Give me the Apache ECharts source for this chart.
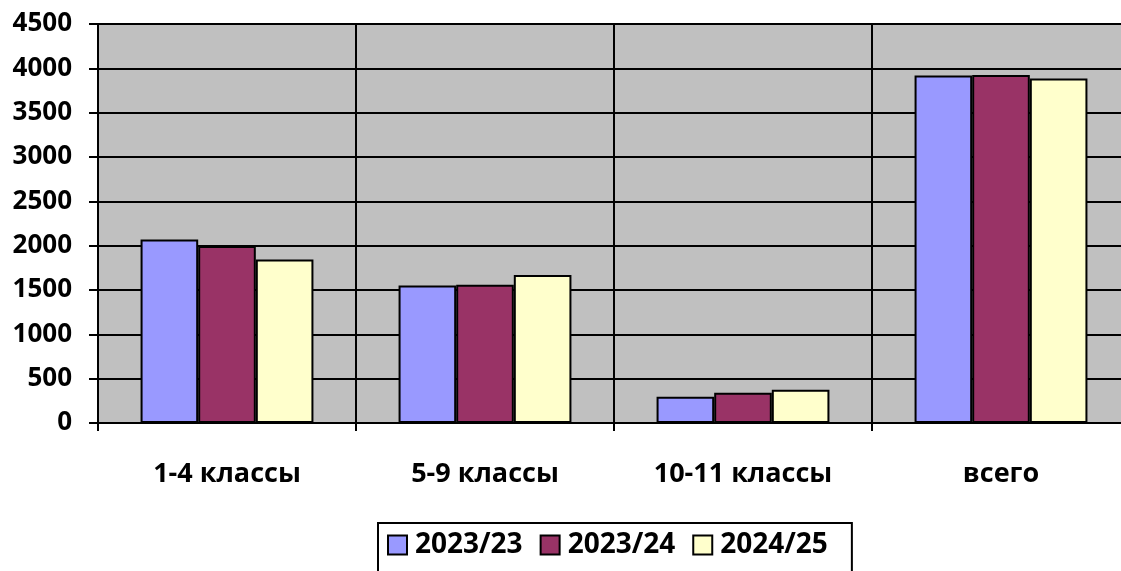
<!DOCTYPE html>
<html>
<head>
<meta charset="utf-8">
<script src="https://cdn.jsdelivr.net/npm/echarts@6/dist/echarts.min.js"></script>
<style>
  html, body { margin: 0; padding: 0; background: #fff; overflow: hidden; }
  #chart { width: 1131px; height: 571px; }
</style>
</head>
<body>
<div id="chart"></div>
<script>
// данные по классам
const categories = ['1-4 классы', '5-9 классы', '10-11 классы', 'всего']
const seriesNames = ['2023/23', '2023/24', '2024/25']
const values2023_23 = [2070, 1550, 295, 3920]
const values2023_24 = [1995, 1560, 340, 3925]
const values2024_25 = [1845, 1670, 375, 3885]
const yTicks = [0, 500, 1000, 1500, 2000, 2500, 3000, 3500, 4000, 4500]

const colors = ['#9999FF', '#993366', '#FFFFCC']
const font = '"Open Sans", "DejaVu Sans", sans-serif'

const chart = echarts.init(document.getElementById('chart'))

const seriesData = [values2023_23, values2023_24, values2024_25]

const option = {
  animation: false,
  textStyle: { fontFamily: font },
  grid: {
    left: 98,
    top: 24,
    right: 1,
    bottom: 148,
    show: true,
    backgroundColor: '#C0C0C0',
    borderColor: '#808080',
    borderWidth: 2
  },
  legend: {
    data: seriesNames,
    top: 523,
    left: 378,
    icon: 'rect',
    itemWidth: 19,
    itemHeight: 19,
    itemGap: 17,
    padding: [8, 24, 30, 9],
    borderColor: '#000',
    borderWidth: 2,
    itemStyle: { borderColor: '#000', borderWidth: 2 },
    textStyle: {
      fontFamily: font,
      fontWeight: 'bold',
      fontSize: 28,
      color: '#000',
      padding: [0, 0, 0, 3]
    }
  },
  xAxis: {
    type: 'category',
    data: categories,
    axisLine: { lineStyle: { color: '#000', width: 2 } },
    axisTick: { show: true, length: 8, lineStyle: { color: '#000', width: 2 } },
    splitLine: { show: true, lineStyle: { color: '#000', width: 2 } },
    axisLabel: {
      margin: 38,
      color: '#000',
      fontWeight: 'bold',
      fontSize: 27,
      fontFamily: font
    }
  },
  yAxis: {
    type: 'value',
    min: yTicks[0],
    max: yTicks[yTicks.length - 1],
    interval: yTicks[1] - yTicks[0],
    axisLine: { show: true, lineStyle: { color: '#000', width: 2 } },
    axisTick: { show: true, length: 9, lineStyle: { color: '#000', width: 2 } },
    splitLine: { show: true, lineStyle: { color: '#000', width: 2 } },
    axisLabel: {
      margin: 26,
      color: '#000',
      fontWeight: 'bold',
      fontSize: 26,
      fontFamily: font,
      formatter: v => String(v)
    }
  },
  series: seriesNames.map((name, i) => ({
    name,
    type: 'bar',
    data: seriesData[i],
    barGap: '0%',
    barCategoryGap: '33%',
    itemStyle: {
      color: colors[i],
      borderColor: '#000',
      borderWidth: 2
    }
  }))
}

chart.setOption(option)
</script>
</body>
</html>
